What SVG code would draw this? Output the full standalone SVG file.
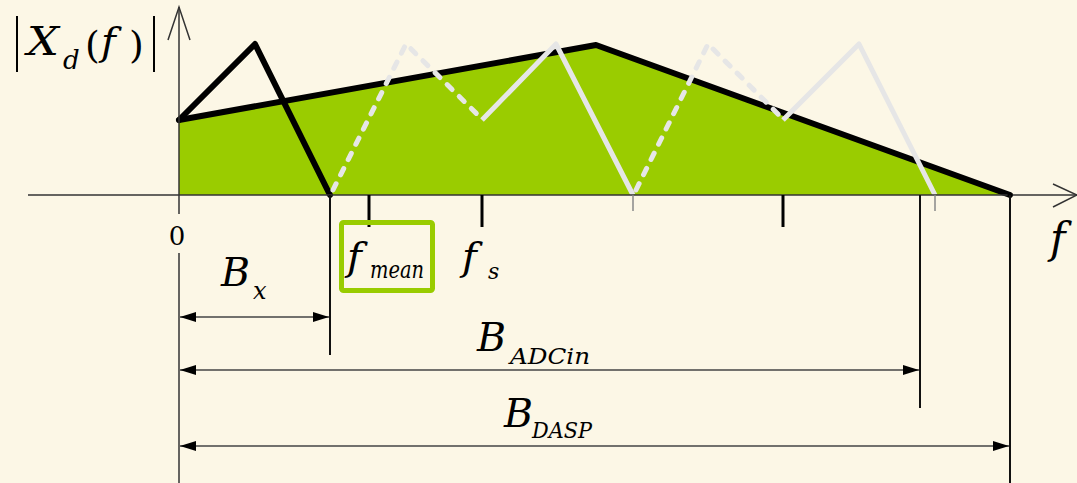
<svg xmlns="http://www.w3.org/2000/svg" width="1077" height="483" viewBox="0 0 1077 483">
<defs>
<style>
.ax{stroke:#333;stroke-width:1.5;fill:none}
.dim{stroke:#444;stroke-width:1.6;fill:none}
.ext{stroke:#111;stroke-width:2;fill:none}
.blk{stroke:#000;stroke-width:6;fill:none;stroke-linejoin:round;stroke-linecap:round}
.gs{stroke:#E6E6E6;stroke-width:5;fill:none;stroke-linejoin:round}
.gd{stroke:#E6E6E6;stroke-width:5;fill:none;stroke-linecap:round;stroke-dasharray:7 10}
.tk{stroke:#000;stroke-width:3}
.tkg{stroke:#888;stroke-width:1.5}
.t{font-family:'DejaVu Serif',serif;font-style:italic;fill:#000}
.n{font-family:'DejaVu Serif',serif;fill:#000}
</style>
<marker id="ah" viewBox="0 0 16 10" refX="16" refY="5" markerWidth="16" markerHeight="10" markerUnits="userSpaceOnUse" orient="auto-start-reverse">
<path d="M0,0 L16,5 L0,10 Z" fill="#000"/>
</marker>
</defs>
<rect width="1077" height="483" fill="#FCF7E6"/>

<g id="spectrum">
<polygon points="179,120 596,45 1010,195 179,195" fill="#9ACC00"/>
<polyline class="blk" points="179,120 596,45 1010,195"/>
<polyline class="blk" points="179,120 255,44 330,195"/>
</g>

<g id="images">
<polyline class="gd" points="333,190 406,44 482,119"/>
<polyline class="gs" points="482,120 556,44 633,195"/>
<polyline class="gd" points="636,190 708,44 783,119"/>
<polyline class="gs" points="783,120 859,44 935,195"/>
</g>

<g id="axes">
<line class="ax" x1="28" y1="195" x2="1077" y2="195"/>
<polyline class="ax" points="1053,184 1077,195 1053,207"/>
<line class="ax" x1="179" y1="7" x2="179" y2="214"/>
<line class="ax" x1="179" y1="253" x2="179" y2="483"/>
<polyline class="ax" points="168,40 179,7 190,40"/>
<line class="tk" x1="369" y1="195" x2="369" y2="227"/>
<line class="tk" x1="482" y1="195" x2="482" y2="227"/>
<line class="tk" x1="783" y1="195" x2="783" y2="227"/>
<line class="tkg" x1="633" y1="195" x2="633" y2="211"/>
<line class="tkg" x1="935" y1="195" x2="935" y2="211"/>
<circle cx="1010" cy="195" r="2.5" fill="#000"/>
</g>

<g id="connectors">
<line class="ext" x1="330" y1="195" x2="330" y2="355"/>
<line class="ext" x1="920" y1="195" x2="920" y2="408"/>
<line class="ext" x1="1010" y1="195" x2="1010" y2="483"/>
<line class="dim" x1="180" y1="317" x2="329" y2="317" marker-start="url(#ah)" marker-end="url(#ah)"/>
<line class="dim" x1="180" y1="370" x2="919" y2="370" marker-start="url(#ah)" marker-end="url(#ah)"/>
<line class="dim" x1="180" y1="446" x2="1009" y2="446" marker-start="url(#ah)" marker-end="url(#ah)"/>
</g>

<g id="label-Xd">
<line x1="17" y1="16" x2="17" y2="72" stroke="#000" stroke-width="2"/>
<line x1="154" y1="16" x2="154" y2="72" stroke="#000" stroke-width="2"/>
<text class="t" x="27" y="55" font-size="40" textLength="32" lengthAdjust="spacingAndGlyphs">X</text>
<text class="t" x="63" y="69" font-size="26">d</text>
<text class="n" x="85" y="58" font-size="38">(</text>
<text class="t" x="101" y="55" font-size="40">f</text>
<text class="n" x="129" y="58" font-size="38">)</text>
</g>

<g id="label-0"><text class="n" x="177" y="245" font-size="26" text-anchor="middle">0</text></g>

<g id="label-f"><text class="t" x="1050" y="253" font-size="42">f</text></g>

<g id="label-fmean">
<rect x="341.5" y="222.5" width="91" height="68" rx="2" fill="none" stroke="#99CC00" stroke-width="5"/>
<text class="t" x="347" y="270" font-size="40">f</text>
<text class="t" x="370" y="278" font-size="24" textLength="54" lengthAdjust="spacingAndGlyphs">mean</text>
</g>

<g id="label-fs">
<text class="t" x="462" y="270" font-size="40">f</text>
<text class="t" x="488" y="279" font-size="22">s</text>
</g>

<g id="label-Bx">
<text class="t" x="221" y="286" font-size="40" textLength="29" lengthAdjust="spacingAndGlyphs">B</text>
<text class="t" x="253" y="299" font-size="24">x</text>
</g>

<g id="label-BADCin">
<text class="t" x="477" y="351" font-size="40" textLength="29" lengthAdjust="spacingAndGlyphs">B</text>
<text class="t" x="510" y="364" font-size="22" textLength="80" lengthAdjust="spacingAndGlyphs">ADCin</text>
</g>

<g id="label-BDASP">
<text class="t" x="504" y="427" font-size="40" textLength="29" lengthAdjust="spacingAndGlyphs">B</text>
<text class="t" x="532" y="438" font-size="22" textLength="60" lengthAdjust="spacingAndGlyphs">DASP</text>
</g>
</svg>
